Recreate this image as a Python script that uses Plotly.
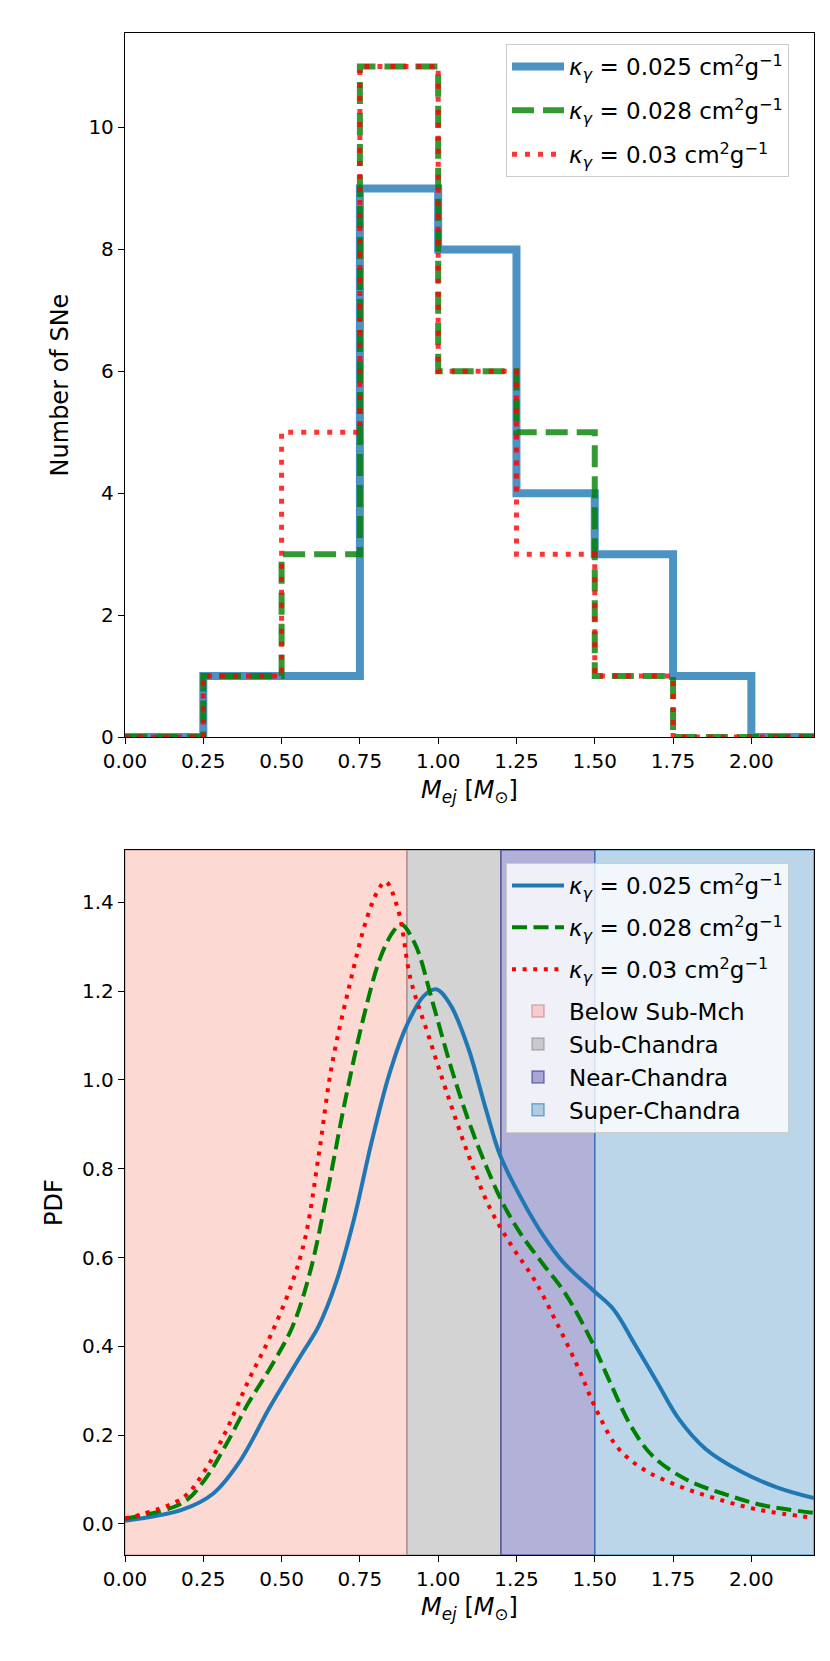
import plotly.graph_objects as go

# histogram of ejecta masses (bin edges + counts per kappa)
bin_edges = [0.0, 0.25, 0.5, 0.75, 1.0, 1.25, 1.5, 1.75, 2.0, 2.25, 2.5]
counts_025 = [0, 1, 1, 9, 8, 4, 3, 1, 0, 0]
counts_028 = [0, 1, 3, 11, 6, 5, 1, 0, 0, 0]
counts_030 = [0, 1, 5, 11, 6, 3, 1, 0, 0, 0]

# PDF curves
pdf_x_025 = [0, 0.183, 0.281, 0.365, 0.464, 0.562, 0.618, 0.674, 0.731, 0.787, 0.843, 0.899,
             0.955, 0.995, 1.04, 1.096, 1.152, 1.198, 1.264, 1.335, 1.405, 1.498, 1.559, 1.63,
             1.7, 1.77, 1.854, 1.967, 2.079, 2.2]
pdf_y_025 = [0.007, 0.032, 0.068, 0.139, 0.265, 0.38, 0.445, 0.544, 0.686, 0.859, 1.011, 1.122,
             1.19, 1.204, 1.168, 1.072, 0.935, 0.83, 0.735, 0.65, 0.585, 0.524, 0.484, 0.402,
             0.318, 0.235, 0.169, 0.118, 0.083, 0.058]
pdf_x_028 = [0, 0.183, 0.253, 0.323, 0.393, 0.464, 0.534, 0.59, 0.646, 0.702, 0.759, 0.815,
             0.857, 0.882, 0.927, 0.983, 1.04, 1.096, 1.152, 1.208, 1.264, 1.335, 1.405, 1.489,
             1.545, 1.616, 1.686, 1.798, 1.911, 2.037, 2.2]
pdf_y_028 = [0.012, 0.047, 0.098, 0.179, 0.271, 0.352, 0.443, 0.565, 0.747, 0.95, 1.133, 1.275,
             1.335, 1.351, 1.305, 1.173, 1.031, 0.91, 0.808, 0.72, 0.653, 0.585, 0.52, 0.413,
             0.325, 0.22, 0.152, 0.098, 0.068, 0.042, 0.025]
pdf_x_030 = [0, 0.183, 0.253, 0.323, 0.393, 0.464, 0.534, 0.576, 0.618, 0.66, 0.717, 0.773,
             0.808, 0.832, 0.871, 0.913, 0.969, 1.026, 1.096, 1.166, 1.236, 1.307, 1.377, 1.447,
             1.503, 1.573, 1.658, 1.77, 1.883, 2.023, 2.2]
pdf_y_030 = [0.012, 0.058, 0.118, 0.21, 0.321, 0.423, 0.544, 0.646, 0.828, 1.031, 1.214, 1.366,
             1.427, 1.447, 1.386, 1.224, 1.1, 0.975, 0.832, 0.71, 0.625, 0.55, 0.455, 0.352,
             0.26, 0.172, 0.122, 0.085, 0.058, 0.032, 0.014]

# mass regions
region_names = ['Below Sub-Mch', 'Sub-Chandra', 'Near-Chandra', 'Super-Chandra']
region_lo = [0.0, 0.9, 1.2, 1.5]
region_hi = [0.9, 1.2, 1.5, 2.2]
region_fill = ['rgba(250,128,114,0.3)', 'rgba(128,128,128,0.35)', 'rgba(0,0,128,0.3)',
               'rgba(31,119,180,0.3)']
region_edge = ['rgba(200,110,110,0.5)', 'rgba(128,128,128,0.5)', 'rgba(0,0,128,0.45)',
               'rgba(31,119,180,0.55)']

kappa_labels = ['0.025', '0.028', '0.03']
FONT = 'DejaVu Sans'


def kappa_name(k):
    return '<i>κ</i><sub><i>γ</i></sub> = %s cm<sup>2</sup>g<sup>−1</sup>' % k


fig = go.Figure()

hist_styles = [
    dict(color='rgba(31,119,180,0.8)', width=8, dash='solid'),
    dict(color='rgba(0,128,0,0.8)', width=6, dash='22px,9px'),
    dict(color='rgba(255,0,0,0.8)', width=5, dash='5px,8px'),
]
for i, counts in enumerate([counts_025, counts_028, counts_030]):
    fig.add_trace(go.Scatter(
        x=bin_edges,
        y=counts + [0],
        mode='lines',
        line=dict(shape='hv', **hist_styles[i]),
        name=kappa_name(kappa_labels[i]),
        legend='legend',
        legendgroup='h%d' % i,
        xaxis='x', yaxis='y',
    ))

pdf_styles = [
    dict(color='#1f77b4', width=4, dash='solid'),
    dict(color='green', width=4, dash='15px,6.5px'),
    dict(color='red', width=4, dash='4px,6.6px'),
]
for i, (xs, ys) in enumerate([(pdf_x_025, pdf_y_025), (pdf_x_028, pdf_y_028), (pdf_x_030, pdf_y_030)]):
    fig.add_trace(go.Scatter(
        x=xs, y=ys,
        mode='lines',
        line=dict(shape='spline', smoothing=1.0, **pdf_styles[i]),
        name=kappa_name(kappa_labels[i]),
        legend='legend2',
        legendgroup='p%d' % i,
        xaxis='x2', yaxis='y2',
    ))

for name, lo, hi, fc, ec in zip(region_names, region_lo, region_hi, region_fill, region_edge):
    fig.add_shape(
        type='rect', xref='x2', yref='y2 domain',
        x0=lo, x1=hi, y0=0, y1=1,
        fillcolor=fc,
        line=dict(color=ec, width=1.5),
        layer='below',
        name=name, showlegend=True, legend='legend2', legendgroup='regions',
    )

axis_common = dict(
    showline=True, mirror=True, linecolor='black', linewidth=1.3,
    ticks='outside', ticklen=6, tickwidth=1.3, tickcolor='black',
    showgrid=False, zeroline=False,
    tickfont=dict(family=FONT, size=20, color='black'),
)
xtitle = '<i>M</i><sub><i>ej</i></sub> [<i>M</i><sub>⊙</sub>]'

legend_common = dict(
    xanchor='left', yanchor='top',
    bgcolor='rgba(255,255,255,0.8)', bordercolor='#cccccc', borderwidth=1,
    font=dict(family=FONT, size=23), itemwidth=52,
)

fig.update_layout(
    width=830, height=1661,
    margin=dict(l=117, r=24, t=25, b=114),
    paper_bgcolor='white', plot_bgcolor='white',
    font=dict(family=FONT, size=20, color='black'),
    xaxis=dict(domain=[0, 1], anchor='y', range=[0, 2.2], tick0=0, dtick=0.25, tickformat='.2f',
               title=dict(text=xtitle, standoff=8), **axis_common),
    yaxis=dict(domain=[0.5374, 1], anchor='x', range=[0, 11.55], tick0=0, dtick=2,
               title=dict(text='Number of SNe', standoff=12), **axis_common),
    xaxis2=dict(domain=[0, 1], anchor='y2', range=[0, 2.2], tick0=0, dtick=0.25, tickformat='.2f',
                title=dict(text=xtitle, standoff=8), **axis_common),
    yaxis2=dict(domain=[0, 0.4632], anchor='x2', range=[-0.07, 1.518], tick0=0, dtick=0.2,
                tickformat='.1f', title=dict(text='PDF', standoff=12), **axis_common),
    legend=dict(x=0.553, y=0.9928, tracegroupgap=11, **legend_common),
    legend2=dict(x=0.553, y=0.4547, tracegroupgap=9, **legend_common),
    showlegend=True,
)

fig.write_html('out.html')
